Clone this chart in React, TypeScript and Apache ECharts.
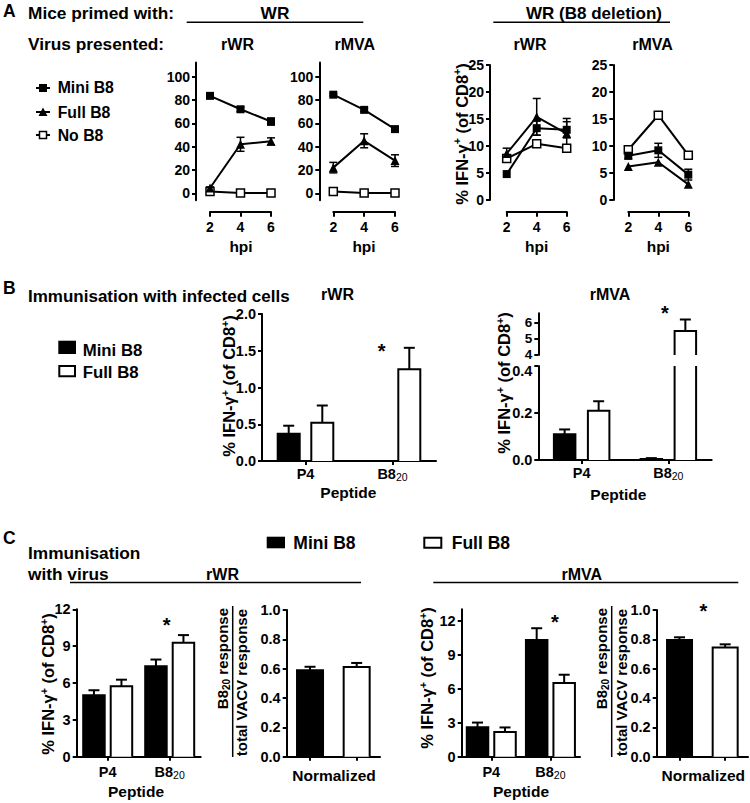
import React, { useEffect, useRef } from 'react';
import * as echarts from 'echarts';

// ---------- DATA ----------
const HPI = [2, 4, 6];

// Panel A – mice primed with WR
const WR_RWR_MINI = [83.5, 72, 61.5];
const WR_RWR_MINI_SEM = [1, 2, 3];
const WR_RWR_FULL = [4.5, 42, 44.5];
const WR_RWR_FULL_SEM = [1, 6, 3];
const WR_RWR_NO = [1.5, 0.2, 0.2];
const WR_RWR_NO_SEM = [0, 0, 0];

const WR_RMVA_MINI = [84.5, 71.5, 55];
const WR_RMVA_MINI_SEM = [1, 1.5, 1.5];
const WR_RMVA_FULL = [22, 45, 28];
const WR_RMVA_FULL_SEM = [4.5, 6, 5];
const WR_RMVA_NO = [1.5, 0.2, 0.2];
const WR_RMVA_NO_SEM = [0, 0, 0];

// Panel A – mice primed with WR (B8 deletion)
const DEL_RWR_MINI = [4.8, 13.3, 13.0];
const DEL_RWR_MINI_SEM = [0, 1.3, 1.5];
const DEL_RWR_FULL = [8.6, 15.4, 12.3];
const DEL_RWR_FULL_SEM = [1.0, 3.4, 2.8];
const DEL_RWR_NO = [7.7, 10.4, 9.6];
const DEL_RWR_NO_SEM = [0, 0, 0];

const DEL_RMVA_MINI = [8.2, 9.2, 4.7];
const DEL_RMVA_MINI_SEM = [0.6, 1.3, 1.0];
const DEL_RMVA_FULL = [6.2, 7.0, 2.9];
const DEL_RMVA_FULL_SEM = [0, 0, 0];
const DEL_RMVA_NO = [9.3, 15.7, 8.3];
const DEL_RMVA_NO_SEM = [0, 0, 0];

// Panel B – immunisation with infected cells
const PEPTIDES = ['P4', 'B8_20'];
const CELLS_RWR_MINI = [0.37, 0];
const CELLS_RWR_MINI_SEM = [0.11, 0];
const CELLS_RWR_FULL = [0.52, 1.25];
const CELLS_RWR_FULL_SEM = [0.235, 0.29];
const CELLS_RMVA_MINI = [0.11, 0.004];
const CELLS_RMVA_MINI_SEM = [0.02, 0.004];
const CELLS_RMVA_FULL = [0.21, 5.47];
const CELLS_RMVA_FULL_SEM = [0.04, 0.7];

// Panel C – immunisation with virus
const VIRUS_RWR_MINI = [5.0, 7.36];
const VIRUS_RWR_MINI_SEM = [0.41, 0.55];
const VIRUS_RWR_FULL = [5.73, 9.27];
const VIRUS_RWR_FULL_SEM = [0.54, 0.63];
const VIRUS_RMVA_MINI = [2.6, 10.3];
const VIRUS_RMVA_MINI_SEM = [0.41, 1.03];
const VIRUS_RMVA_FULL = [2.17, 6.5];
const VIRUS_RMVA_FULL_SEM = [0.41, 0.73];

const NORM_GROUPS = ['Mini B8', 'Full B8'];
const NORM_RWR = [0.59, 0.612];
const NORM_RWR_SEM = [0.023, 0.027];
const NORM_RMVA = [0.795, 0.745];
const NORM_RMVA_SEM = [0.019, 0.021];

// Tick labels
const TICKS_A_WR = [0, 20, 40, 60, 80, 100];
const TICKS_A_DEL = [0, 5, 10, 15, 20, 25];
const TICKS_B_RWR = [0, 0.5, 1, 1.5, 2];
const TICKS_B_RMVA_LOW = [0, 0.2, 0.4];
const TICKS_B_RMVA_HIGH = [4, 5, 6];
const TICKS_C_PCT = [0, 3, 6, 9, 12];
const TICKS_C_NORM = [0, 0.2, 0.4, 0.6, 0.8, 1];

// ---------- STYLE HELPERS ----------
const FONT = '"Liberation Sans", Arial, Helvetica, sans-serif';
const BLACK = '#000';
const WHITE = '#fff';

const axisLine = { show: true, onZero: false, lineStyle: { color: BLACK, width: 2 } };
const tick = (len = 4, extra: any = {}) => ({ show: true, inside: false, length: len, lineStyle: { color: BLACK, width: 2 }, ...extra });
const lbl = (size: number, margin: number, extra: any = {}) => ({
  show: true, color: BLACK, fontFamily: FONT, fontWeight: 'bold', fontSize: size, margin,
  showMinLabel: true, showMaxLabel: true, hideOverlap: false, ...extra,
});
const fmtInt = (v: number) => String(Math.round(v));
const fmt1 = (v: number) => v.toFixed(1);
// broken axis: nudge the labels on either side of the break apart a little
const fmtBreakHigh = (v: number) => (v === TICKS_B_RMVA_HIGH[0] ? '{lo|' + Math.round(v) + '}' : String(Math.round(v)));
const fmtBreakLow = (v: number) =>
  v === TICKS_B_RMVA_LOW[TICKS_B_RMVA_LOW.length - 1] ? '{hi|' + v.toFixed(1) + '}' : v.toFixed(1);

function yValue(gi: number, min: number, max: number, ticks: number[], size: number, offset: number, fmt: any, extra: any = {}) {
  return {
    type: 'value', gridIndex: gi, min, max, offset,
    splitLine: { show: false },
    axisLine,
    axisTick: tick(4, { customValues: ticks }),
    axisLabel: lbl(size, 6, { customValues: ticks, formatter: fmt, ...extra }),
  };
}

function xHpi(gi: number, offset: number) {
  return {
    type: 'value', gridIndex: gi, min: 2, max: 6, interval: 2, offset,
    splitLine: { show: false },
    axisLine,
    axisTick: tick(5),
    axisLabel: lbl(14, 8),
  };
}

const catRich = {
  m: { fontFamily: FONT, fontWeight: 'bold', fontSize: 14.5, color: BLACK, lineHeight: 17 },
  s: { fontFamily: FONT, fontWeight: 'normal', fontSize: 10.5, color: BLACK, lineHeight: 10, verticalAlign: 'bottom' },
};
const catFmt = (v: string) => (v === 'B8_20' ? '{m|B8}{s|20}' : '{m|' + v + '}');

function xCat(gi: number, data: string[], margin: number, showLabels = true, show = true) {
  return {
    type: 'category', gridIndex: gi, data, show,
    splitLine: { show: false },
    axisLine,
    axisTick: tick(4, { alignWithLabel: true, interval: 0 }),
    axisLabel: lbl(14.5, margin, { show: showLabels, interval: 0, formatter: catFmt, rich: catRich }),
  };
}

function lineSeries(gi: number, ys: number[], kind: string) {
  const base: any = {
    type: 'line', xAxisIndex: gi, yAxisIndex: gi, silent: true, z: 4,
    data: HPI.map((x, i) => [x, ys[i]]),
    color: BLACK,
    lineStyle: { color: BLACK, width: 2 },
  };
  if (kind === 'mini') return { ...base, symbol: 'rect', symbolSize: 8, itemStyle: { color: BLACK } };
  if (kind === 'full') return { ...base, symbol: 'triangle', symbolSize: 9, itemStyle: { color: BLACK } };
  return { ...base, symbol: 'rect', symbolSize: 8, itemStyle: { color: WHITE, borderColor: BLACK, borderWidth: 1.5 } };
}

function lineErr(gi: number, ys: number[], es: number[]) {
  return {
    type: 'custom', xAxisIndex: gi, yAxisIndex: gi, silent: true, z: 3,
    encode: { x: 0, y: 1 },
    data: HPI.map((x, i) => [x, ys[i], es[i]]),
    renderItem: (_p: any, api: any) => {
      const x = api.value(0), y = api.value(1), e = api.value(2);
      if (!e) return { type: 'group', children: [] };
      const t = api.coord([x, y + e]);
      const b = api.coord([x, y - e]);
      const cx = t[0];
      const st = { stroke: BLACK, lineWidth: 1.5 };
      return {
        type: 'group',
        children: [
          { type: 'line', shape: { x1: cx, y1: t[1], x2: cx, y2: b[1] }, style: st },
          { type: 'line', shape: { x1: cx - 4, y1: t[1], x2: cx + 4, y2: t[1] }, style: st },
          { type: 'line', shape: { x1: cx - 4, y1: b[1], x2: cx + 4, y2: b[1] }, style: st },
        ],
      };
    },
  };
}

function barSeries(gi: number, vals: number[], errs: number[], fill: string | string[], offset: number, w: number, clip = false) {
  return {
    type: 'custom', xAxisIndex: gi, yAxisIndex: gi, silent: true, z: 3, clip,
    encode: { x: 0, y: 1 },
    data: vals.map((v, i) => [i, v, errs[i]]),
    renderItem: (p: any, api: any) => {
      const i = api.value(0), v = api.value(1), e = api.value(2);
      const top = api.coord([i, v]);
      const base = api.coord([i, 0]);
      const et = api.coord([i, v + e]);
      const cx = top[0] + offset;
      const x0 = cx - w / 2, x1 = cx + w / 2;
      const f = Array.isArray(fill) ? fill[p.dataIndex] : fill;
      const st = { stroke: BLACK, lineWidth: 2, fill: 'none' };
      const children: any[] = [
        { type: 'rect', shape: { x: x0, y: top[1], width: w, height: base[1] - top[1] }, style: { fill: f } },
        { type: 'polyline', shape: { points: [[x0, base[1]], [x0, top[1]], [x1, top[1]], [x1, base[1]]] }, style: st },
      ];
      if (e > 0) {
        children.push(
          { type: 'line', shape: { x1: cx, y1: top[1], x2: cx, y2: et[1] }, style: st },
          { type: 'line', shape: { x1: cx - 5.5, y1: et[1], x2: cx + 5.5, y2: et[1] }, style: st },
        );
      }
      return { type: 'group', children };
    },
  };
}

// ---------- GRAPHIC HELPERS ----------
function txt(x: number, y: number, text: string, size: number, align = 'left', extra: any = {}, rotation = 0) {
  return {
    type: 'text', x, y, rotation, silent: true,
    style: {
      text, fill: BLACK, fontFamily: FONT, fontWeight: 'bold', fontSize: size,
      align, verticalAlign: 'middle', textAlign: align, textVerticalAlign: 'middle', ...extra,
    },
  };
}
function hline(x1: number, x2: number, y: number, w = 1.5) {
  return { type: 'line', silent: true, shape: { x1, y1: y, x2, y2: y }, style: { stroke: BLACK, lineWidth: w } };
}
function vline(x: number, y1: number, y2: number, w = 1.5) {
  return { type: 'line', silent: true, shape: { x1: x, y1, x2: x, y2 }, style: { stroke: BLACK, lineWidth: w } };
}
const ifnRich = {
  m: { fontFamily: FONT, fontWeight: 'bold', fontSize: 16.5, fill: BLACK, lineHeight: 20 },
  s: { fontFamily: FONT, fontWeight: 'bold', fontSize: 10.5, fill: BLACK, lineHeight: 11, verticalAlign: 'top' },
};
const IFN_TEXT = '{m|% IFN-γ}{s|+}{m| (of CD8}{s|+}{m|)}';
function ifnTitle(x: number, y: number) {
  return txt(x, y, IFN_TEXT, 16.5, 'center', { rich: ifnRich }, Math.PI / 2);
}
const fracRich = {
  m: { fontFamily: FONT, fontWeight: 'bold', fontSize: 15, fill: BLACK, lineHeight: 18 },
  s: { fontFamily: FONT, fontWeight: 'bold', fontSize: 10, fill: BLACK, lineHeight: 10, verticalAlign: 'bottom' },
};
function fraction(xNum: number, xLine: number, xDen: number) {
  return [
    txt(xNum, 608, '{m|B8}{s|20}{m| response}', 15, 'right', { rich: fracRich }, Math.PI / 2),
    vline(xLine, 606, 757, 1.5),
    txt(xDen, 609, 'total VACV response', 15, 'right', {}, Math.PI / 2),
  ];
}

function buildOption() {
  const grids = [
    { left: 210, top: 62.6, width: 61, height: 137.7 },
    { left: 333.3, top: 62.6, width: 61.7, height: 137.7 },
    { left: 506.7, top: 65, width: 60, height: 135 },
    { left: 628.3, top: 65, width: 60, height: 135 },
    { left: 262, top: 314, width: 174, height: 147 },
    { left: 538.3, top: 366, width: 173.4, height: 94 },
    { left: 538.3, top: 313.3, width: 173.4, height: 41.7 },
    { left: 76.7, top: 609.3, width: 124, height: 147.4 },
    { left: 286.7, top: 610, width: 93.3, height: 146.7 },
    { left: 461.7, top: 609.3, width: 118.3, height: 147.4 },
    { left: 656.7, top: 610, width: 91.3, height: 146.7 },
  ].map((g) => ({ ...g, outerBoundsMode: 'none' }));

  const breakHighRich = {
    lo: { fontFamily: FONT, fontWeight: 'bold', fontSize: 13.5, color: BLACK, lineHeight: 10, padding: [0, 0, 2, 0] },
  };
  const breakLowRich = {
    hi: { fontFamily: FONT, fontWeight: 'bold', fontSize: 14.5, color: BLACK, lineHeight: 12, padding: [10, 0, 0, 0] },
  };

  const yAxes = [
    yValue(0, -6, 112, TICKS_A_WR, 14, 14, fmtInt),
    yValue(1, -6, 112, TICKS_A_WR, 14, 14, fmtInt),
    yValue(2, 0, 25, TICKS_A_DEL, 14, 16.7, fmtInt),
    yValue(3, 0, 25, TICKS_A_DEL, 14, 15, fmtInt),
    yValue(4, 0, 2, TICKS_B_RWR, 14.5, 0, fmt1),
    yValue(5, 0, 0.4, TICKS_B_RMVA_LOW, 14.5, 0, fmtBreakLow, { rich: breakLowRich }),
    yValue(6, 4, 6.55, TICKS_B_RMVA_HIGH, 13.5, 0, fmtBreakHigh, { rich: breakHighRich }),
    yValue(7, 0, 12, TICKS_C_PCT, 14.5, 0, fmtInt),
    yValue(8, 0, 1, TICKS_C_NORM, 14.5, 0, fmt1),
    yValue(9, 0, 13, TICKS_C_PCT, 14.5, 0, fmtInt),
    yValue(10, 0, 1, TICKS_C_NORM, 14.5, 0, fmt1),
  ];

  const xAxes = [
    xHpi(0, 11.4),
    xHpi(1, 11.4),
    xHpi(2, 11.7),
    xHpi(3, 11.7),
    xCat(4, PEPTIDES, 4),
    xCat(5, PEPTIDES, 4),
    xCat(6, PEPTIDES, 4, false, false),
    xCat(7, PEPTIDES, 7),
    xCat(8, NORM_GROUPS, 7, false),
    xCat(9, PEPTIDES, 7),
    xCat(10, NORM_GROUPS, 7, false),
  ];

  const aSets: [number, number[], number[], number[], number[], number[], number[]][] = [
    [0, WR_RWR_MINI, WR_RWR_MINI_SEM, WR_RWR_FULL, WR_RWR_FULL_SEM, WR_RWR_NO, WR_RWR_NO_SEM],
    [1, WR_RMVA_MINI, WR_RMVA_MINI_SEM, WR_RMVA_FULL, WR_RMVA_FULL_SEM, WR_RMVA_NO, WR_RMVA_NO_SEM],
    [2, DEL_RWR_MINI, DEL_RWR_MINI_SEM, DEL_RWR_FULL, DEL_RWR_FULL_SEM, DEL_RWR_NO, DEL_RWR_NO_SEM],
    [3, DEL_RMVA_MINI, DEL_RMVA_MINI_SEM, DEL_RMVA_FULL, DEL_RMVA_FULL_SEM, DEL_RMVA_NO, DEL_RMVA_NO_SEM],
  ];
  const series: any[] = [];
  for (const [gi, mi, mie, fu, fue, no, noe] of aSets) {
    series.push(lineErr(gi, mi, mie), lineErr(gi, fu, fue), lineErr(gi, no, noe));
    series.push(lineSeries(gi, no, 'no'), lineSeries(gi, fu, 'full'), lineSeries(gi, mi, 'mini'));
  }
  // Panel B
  series.push(
    barSeries(4, CELLS_RWR_MINI, CELLS_RWR_MINI_SEM, BLACK, -16.8, 22),
    barSeries(4, CELLS_RWR_FULL, CELLS_RWR_FULL_SEM, WHITE, 16.8, 22),
    barSeries(5, CELLS_RMVA_MINI, CELLS_RMVA_MINI_SEM, BLACK, -17, 21.5, true),
    barSeries(5, CELLS_RMVA_FULL, CELLS_RMVA_FULL_SEM, WHITE, 17, 21.5, true),
    barSeries(6, CELLS_RMVA_MINI, CELLS_RMVA_MINI_SEM, BLACK, -17, 21.5, true),
    barSeries(6, CELLS_RMVA_FULL, CELLS_RMVA_FULL_SEM, WHITE, 17, 21.5, true),
  );
  // Panel C
  series.push(
    barSeries(7, VIRUS_RWR_MINI, VIRUS_RWR_MINI_SEM, BLACK, -13.75, 21.5),
    barSeries(7, VIRUS_RWR_FULL, VIRUS_RWR_FULL_SEM, WHITE, 13.75, 21.5),
    barSeries(8, NORM_RWR, NORM_RWR_SEM, [BLACK, WHITE], 0, 26),
    barSeries(9, VIRUS_RMVA_MINI, VIRUS_RMVA_MINI_SEM, BLACK, -13.75, 21.5),
    barSeries(9, VIRUS_RMVA_FULL, VIRUS_RMVA_FULL_SEM, WHITE, 13.75, 21.5),
    barSeries(10, NORM_RMVA, NORM_RMVA_SEM, [BLACK, WHITE], 0, 25),
  );

  const star = (x: number, y: number) => txt(x, y + 4, '*', 20, 'center');

  const graphics: any[] = [
    // Panel A headers
    txt(3, 10.5, 'A', 17.5),
    txt(28, 13, 'Mice primed with:', 17.3),
    txt(275, 13, 'WR', 17.3, 'center'),
    hline(186.7, 363.3, 22.3),
    txt(594, 13, 'WR (B8 deletion)', 17, 'center'),
    hline(493.3, 670, 22.3),
    txt(28, 44, 'Virus presented:', 17.3),
    txt(237.5, 44, 'rWR', 16, 'center'),
    txt(354.7, 44, 'rMVA', 16, 'center'),
    txt(530, 44, 'rWR', 16, 'center'),
    txt(652.5, 44, 'rMVA', 16, 'center'),
    // Legend A
    hline(36, 50, 88, 2),
    { type: 'rect', silent: true, shape: { x: 39, y: 84, width: 8, height: 8 }, style: { fill: BLACK } },
    txt(57.7, 87.5, 'Mini B8', 15.8),
    hline(36, 50, 112, 2),
    { type: 'polygon', silent: true, shape: { points: [[43, 107.5], [47.5, 116], [38.5, 116]] }, style: { fill: BLACK } },
    txt(57.7, 112, 'Full B8', 15.8),
    hline(36, 50, 135, 2),
    { type: 'rect', silent: true, shape: { x: 39.5, y: 131.5, width: 7, height: 7 }, style: { fill: WHITE, stroke: BLACK, lineWidth: 1.5 } },
    txt(57.7, 135, 'No B8', 15.8),
    // hpi labels
    txt(241, 246, 'hpi', 15.5, 'center'),
    txt(364, 246, 'hpi', 15.5, 'center'),
    txt(536.7, 246, 'hpi', 15.5, 'center'),
    txt(658.3, 246, 'hpi', 15.5, 'center'),
    ifnTitle(461.7, 134),

    // Panel B
    txt(3, 288, 'B', 17.5),
    txt(28, 296, 'Immunisation with infected cells', 17),
    txt(337.5, 294, 'rWR', 16, 'center'),
    txt(610, 294, 'rMVA', 16, 'center'),
    { type: 'rect', silent: true, shape: { x: 58.3, y: 340.7, width: 17.7, height: 13.3 }, style: { fill: BLACK } },
    txt(82.7, 350.5, 'Mini B8', 16.8),
    { type: 'rect', silent: true, shape: { x: 59.3, y: 366, width: 15.7, height: 10.3 }, style: { fill: WHITE, stroke: BLACK, lineWidth: 2 } },
    txt(82.7, 372.5, 'Full B8', 16.8),
    ifnTitle(229, 386),
    ifnTitle(504, 383),
    txt(348.3, 492, 'Peptide', 15.5, 'center'),
    txt(618.3, 494, 'Peptide', 15.5, 'center'),
    star(381.7, 346.7),
    star(665, 309.3),

    // Panel C
    txt(3, 538, 'C', 17.5),
    txt(28, 553, 'Immunisation', 17.3),
    txt(28, 574, 'with virus', 17.3),
    { type: 'rect', silent: true, shape: { x: 266.7, y: 536.7, width: 18.3, height: 11.6 }, style: { fill: BLACK } },
    txt(293.3, 542.5, 'Mini B8', 17.5),
    { type: 'rect', silent: true, shape: { x: 424.3, y: 537.7, width: 17, height: 10 }, style: { fill: WHITE, stroke: BLACK, lineWidth: 2 } },
    txt(451.7, 542.5, 'Full B8', 17.5),
    txt(222.5, 574, 'rWR', 16, 'center'),
    hline(70, 361, 582.5),
    txt(581.7, 574, 'rMVA', 16, 'center'),
    hline(433.3, 738.3, 582.5),
    ifnTitle(48, 684),
    ifnTitle(427, 678),
    ...fraction(222.5, 232.7, 241.5),
    ...fraction(601.7, 611.7, 621.7),
    txt(136, 791.5, 'Peptide', 15.5, 'center'),
    txt(521, 791.5, 'Peptide', 15.5, 'center'),
    txt(334, 775, 'Normalized', 15.5, 'center'),
    txt(703.3, 775, 'Normalized', 15.5, 'center'),
    star(166.7, 620.7),
    star(555, 618.3),
    star(703.3, 606.7),
  ];

  return {
    animation: false,
    backgroundColor: WHITE,
    textStyle: { fontFamily: FONT },
    grid: grids,
    xAxis: xAxes,
    yAxis: yAxes,
    series,
    graphic: { elements: graphics },
  };
}

export default function App() {
  const ref = useRef<HTMLDivElement>(null);
  useEffect(() => {
    const chart = echarts.init(ref.current as HTMLDivElement, null, { renderer: 'svg' });
    chart.setOption(buildOption() as any);
    return () => chart.dispose();
  }, []);
  return (
    <div
      ref={ref}
      style={{ position: 'absolute', left: 0, top: 0, width: 750, height: 803, background: '#fff' }}
    />
  );
}
